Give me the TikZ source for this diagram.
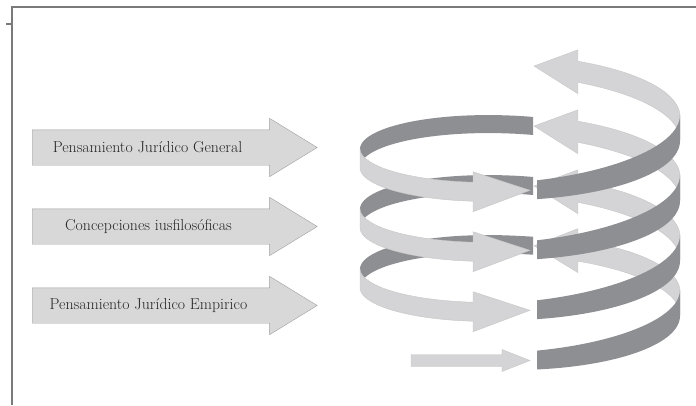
\documentclass[tikz,border=0pt]{standalone}
\usepackage{fontspec}
\usepackage{tikz}
\usetikzlibrary{shapes,arrows,positioning,calc}

\definecolor{bandlight}{HTML}{D4D4D6}
\definecolor{banddark}{HTML}{8E8F93}
\definecolor{boxfill}{HTML}{D8D8D8}
\definecolor{framegray}{HTML}{7A7A7A}

\begin{document}
\begin{tikzpicture}[x=1pt, y=-1pt,
    declare function={hx(\t)=520+160*cos(\t);
        hy(\t)=368-\t/6-48*sin(\t)-(\t<450 ? (450-\t)/18 : 0);
        dw(\t)=9+4*cos(\t);
        lw(\t)=10+1.5*abs(cos(\t));},
    txtarrow/.style={single arrow, draw=gray!75, fill=boxfill, minimum height=285pt,
        minimum width=58pt, single arrow head extend=11.5pt, single arrow tip angle=63,
        inner xsep=0pt, inner ysep=17.5pt},
    txtlabel/.style={inner sep=0pt, text=black!85, font=\fontsize{15.8}{18}\selectfont}]
        \useasboundingbox (0,0) rectangle (696,405);

        % Frame
        \draw[framegray, line width=2pt] (12,405) -- (12,7) -- (696,7);
        \draw[framegray, line width=2pt] (6,24) -- (12,24);

        % Text arrows
        \node[txtarrow, anchor=tail] (general) at (32,147.5) {};
        \node[txtarrow, anchor=tail] (concep) at (32,226.5) {};
        \node[txtarrow, anchor=tail] (empir) at (32,305.5) {};
        \node[txtlabel] (generaltxt) at ($(general.tail)+(115.5,0)$) {Pensamiento Jurídico General};
        \node[txtlabel] (conceptxt) at ($(concep.tail)+(116.5,0)$) {Concepciones iusfilosóficas};
        \node[txtlabel] (empirtxt) at ($(empir.tail)+(116.5,0)$) {Pensamiento Jurídico Empirico};

        % Back right, light, arrows to the left
        \foreach \k in {1,...,4} {
            \pgfmathsetmacro{\s}{360*\k}
            \pgfmathsetmacro{\bb}{360*\k+68.75}
            \pgfmathsetmacro{\tp}{360*\k+84.98}
            \fill[bandlight, draw=gray!45, line width=0.4pt]
                plot[domain=\s:\bb, samples=30] ({hx(\x)},{hy(\x)-lw(\x)})
                -- ({hx(\bb)},{hy(\bb)-22}) -- ({hx(\tp)},{hy(\tp)})
                -- ({hx(\bb)},{hy(\bb)+22})
                -- plot[domain=\bb:\s, samples=30] ({hx(\x)},{hy(\x)+lw(\x)}) -- cycle;
        }

        % Back left, dark
        \foreach \k in {1,...,3} {
            \pgfmathsetmacro{\s}{360*\k+85.34}
            \pgfmathsetmacro{\e}{360*\k+180}
            \fill[banddark]
                plot[domain=\s:\e, samples=30] ({hx(\x)},{hy(\x)-9})
                -- plot[domain=\e:\s, samples=30] ({hx(\x)},{hy(\x)+9}) -- cycle;
        }

        % Front left, light, arrows to the right
        \foreach \k in {1,...,3} {
            \pgfmathsetmacro{\s}{360*\k+180}
            \pgfmathsetmacro{\bb}{360*\k+252.92}
            \pgfmathsetmacro{\tp}{360*\k+273.58}
            \fill[bandlight, draw=gray!45, line width=0.4pt]
                plot[domain=\s:\bb, samples=30] ({hx(\x)},{hy(\x)-9.5})
                -- ({hx(\bb)},{hy(\bb)-20}) -- ({hx(\tp)},{hy(\tp)})
                -- ({hx(\bb)},{hy(\bb)+20})
                -- plot[domain=\bb:\s, samples=30] ({hx(\x)},{hy(\x)+9.5}) -- cycle;
        }

        % Front right, dark, wider towards the side
        \foreach \k in {0,...,3} {
            \pgfmathsetmacro{\s}{360*\k+276.1}
            \pgfmathsetmacro{\e}{360*\k+360}
            \fill[banddark]
                plot[domain=\s:\e, samples=30] ({hx(\x)},{hy(\x)-dw(\x)})
                -- plot[domain=\e:\s, samples=30] ({hx(\x)},{hy(\x)+dw(\x)}) -- cycle;
        }

        % Straight arrow at the bottom
        \coordinate (tail) at (411,{hy(273.58)});
        \coordinate (tip) at ({hx(273.58)},{hy(273.58)});
        \fill[bandlight, draw=gray!45, line width=0.4pt]
            ($(tail)+(0,-6)$) -- ($(tip)+(-28,-6)$) -- ($(tip)+(-28,-11)$) -- (tip)
            -- ($(tip)+(-28,11)$) -- ($(tip)+(-28,6)$) -- ($(tail)+(0,6)$) -- cycle;
\end{tikzpicture}
\end{document}
